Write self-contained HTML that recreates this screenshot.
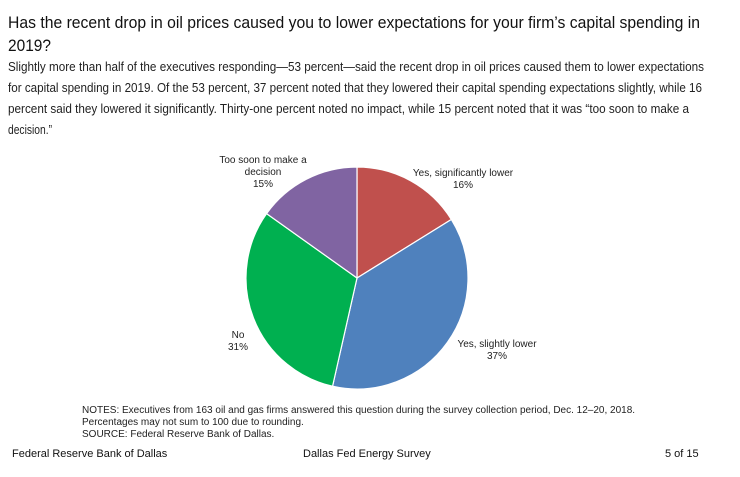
<!DOCTYPE html>
<html><head><meta charset="utf-8"><style>
html,body{margin:0;padding:0;background:#fff;width:740px;height:477px;overflow:hidden}
svg{display:block}
.t{font-family:"Liberation Sans",sans-serif;fill:#111}
</style></head><body>
<svg id="chart" width="740" height="477" viewBox="0 0 740 477">
<text class="t" x="8" y="28" font-size="17" textLength="692" lengthAdjust="spacingAndGlyphs">Has the recent drop in oil prices caused you to lower expectations for your firm’s capital spending in</text>
<text class="t" x="8" y="51" font-size="17" textLength="43" lengthAdjust="spacingAndGlyphs">2019?</text>
<g font-size="12.5" fill="#222" font-family="Liberation Sans,sans-serif">
<text x="8" y="71" textLength="696" lengthAdjust="spacingAndGlyphs">Slightly more than half of the executives responding—53 percent—said the recent drop in oil prices caused them to lower expectations</text>
<text x="8" y="92" textLength="694" lengthAdjust="spacingAndGlyphs">for capital spending in 2019. Of the 53 percent, 37 percent noted that they lowered their capital spending expectations slightly, while 16</text>
<text x="8" y="113" textLength="681" lengthAdjust="spacingAndGlyphs">percent said they lowered it significantly. Thirty-one percent noted no impact, while 15 percent noted that it was “too soon to make a</text>
<text x="8" y="134" textLength="44" lengthAdjust="spacingAndGlyphs">decision.”</text>
</g>
<g id="pie"></g>
<g font-size="10" fill="#222" font-family="Liberation Sans,sans-serif" text-anchor="middle">
<text x="463" y="176">Yes, significantly lower</text><text x="463" y="188">16%</text>
<text x="497" y="347">Yes, slightly lower</text><text x="497" y="359">37%</text>
<text x="238" y="338">No</text><text x="238" y="350">31%</text>
<text x="263" y="163">Too soon to make a</text><text x="263" y="175">decision</text><text x="263" y="187">15%</text>
</g>
<g font-size="10" fill="#222" font-family="Liberation Sans,sans-serif">
<text x="82" y="413">NOTES: Executives from 163 oil and gas firms answered this question during the survey collection period, Dec. 12–20, 2018.</text>
<text x="82" y="425">Percentages may not sum to 100 due to rounding.</text>
<text x="82" y="437">SOURCE: Federal Reserve Bank of Dallas.</text>
</g>
<g font-size="11" fill="#111" font-family="Liberation Sans,sans-serif">
<text x="12" y="457">Federal Reserve Bank of Dallas</text>
<text x="303" y="457">Dallas Fed Energy Survey</text>
<text x="665" y="457">5 of 15</text>
</g>
</svg>
<script>
const categories=["Yes, significantly lower","Yes, slightly lower","No","Too soon to make a decision"];
const values=[16,37,31,15];
const colors=["#c0504d","#4f81bd","#00b050","#8064a2"];
const cx=357,cy=278,r=111;
const g=document.getElementById('pie');
const total=values.reduce((a,b)=>a+b,0);
let a0=0;
values.forEach((v,i)=>{
  const a1=a0+v/total*2*Math.PI;
  const x0=cx+r*Math.sin(a0),y0=cy-r*Math.cos(a0),x1=cx+r*Math.sin(a1),y1=cy-r*Math.cos(a1);
  const p=document.createElementNS('http://www.w3.org/2000/svg','path');
  p.setAttribute('d',`M${cx},${cy}L${x0},${y0}A${r},${r} 0 ${a1-a0>Math.PI?1:0} 1 ${x1},${y1}Z`);
  p.setAttribute('fill',colors[i]);
  p.setAttribute('stroke','#fff');
  p.setAttribute('stroke-width','1.2');
  
  
  g.appendChild(p);
  a0=a1;
});
</script>
</body></html>
